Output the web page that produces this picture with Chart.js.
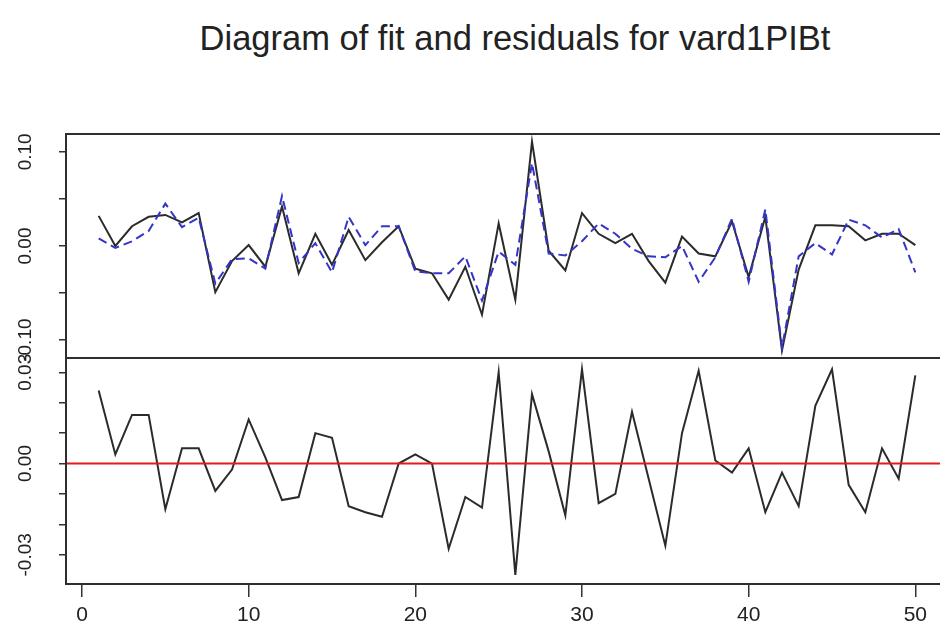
<!DOCTYPE html>
<html>
<head>
<meta charset="utf-8">
<title>Diagram of fit and residuals for vard1PIBt</title>
<script src="https://cdn.jsdelivr.net/npm/chart.js@4.4.1/dist/chart.umd.min.js"></script>
<style>
  html, body { margin: 0; padding: 0; background: #fff; overflow: hidden; width: 940px; height: 636px; }
  #title { position: absolute; left: 0; top: 21px; width: 1030px; text-align: center; white-space: nowrap;
           font: 34.5px/34.5px "Liberation Sans", Arial, sans-serif; color: #222; }
  canvas { position: absolute; left: 0; }
  #fitChart { top: 104px; }
  #residChart { top: 328px; }
</style>
</head>
<body>
<div id="title">Diagram of fit and residuals for vard1PIBt</div>
<canvas id="fitChart" width="950" height="284"></canvas>
<canvas id="residChart" width="950" height="306"></canvas>
<script>
// observation index (x axis)
const obs = [1, 2, 3, 4, 5, 6, 7, 8, 9, 10, 11, 12, 13, 14, 15, 16, 17, 18, 19, 20,
             21, 22, 23, 24, 25, 26, 27, 28, 29, 30, 31, 32, 33, 34, 35, 36, 37, 38, 39, 40,
             41, 42, 43, 44, 45, 46, 47, 48, 49, 50];

// actual series (black solid line, top panel)
const actual = [0.032, 0.000, 0.021, 0.031, 0.033, 0.025, 0.035, -0.049, -0.016, 0.001,
                -0.022, 0.042, -0.029, 0.013, -0.020, 0.017, -0.015, 0.004, 0.021, -0.024,
                -0.029, -0.057, -0.022, -0.073, 0.024, -0.057, 0.111, -0.005, -0.026, 0.035,
                0.013, 0.003, 0.013, -0.016, -0.039, 0.010, -0.008, -0.011, 0.026, -0.033,
                0.031, -0.111, -0.025, 0.022, 0.022, 0.021, 0.006, 0.013, 0.013, 0.001];

// fitted series (blue dashed line, top panel)
const fitted = [0.008, -0.002, 0.005, 0.016, 0.045, 0.020, 0.030, -0.040, -0.014, -0.013,
                -0.024, 0.053, -0.018, 0.003, -0.028, 0.031, 0.001, 0.021, 0.021, -0.027,
                -0.029, -0.029, -0.011, -0.058, -0.006, -0.020, 0.088, -0.008, -0.010, 0.005,
                0.024, 0.013, -0.003, -0.011, -0.012, 0.000, -0.038, -0.012, 0.029, -0.038,
                0.039, -0.108, -0.011, 0.003, -0.009, 0.028, 0.022, 0.009, 0.018, -0.028];

// residuals (bottom panel)
const residuals = [0.024, 0.003, 0.016, 0.016, -0.015, 0.005, 0.005, -0.009, -0.002, 0.0145,
                   0.002, -0.012, -0.011, 0.010, 0.0085, -0.014, -0.016, -0.0175, 0.000, 0.003,
                   0.000, -0.028, -0.011, -0.0145, 0.030, -0.0366, 0.0228, 0.004, -0.017, 0.031,
                   -0.013, -0.010, 0.017, -0.005, -0.027, 0.010, 0.0305, 0.001, -0.003, 0.005,
                   -0.016, -0.003, -0.014, 0.019, 0.031, -0.007, -0.016, 0.005, -0.005, 0.029];

// axis ranges and tick labels
const xMin = -0.96, xMax = 51.96, xStep = 10;
const fitMin = -0.119, fitMax = 0.119, fitStep = 0.05;
const resMin = -0.0396, resMax = 0.0347, resStep = 0.01;
const fitTickLabels = [-0.10, 0.00, 0.10];
const resTickLabels = [-0.03, 0.00, 0.03];
const residualZero = 0;

Chart.defaults.font.family = '"Liberation Sans", Arial, sans-serif';
Chart.defaults.color = '#222';

function toPoints(values) {
  return values.map((v, i) => ({ x: obs[i], y: v }));
}

// frame around the plotting region
const boxPlugin = {
  id: 'box',
  afterDraw(chart) {
    const { ctx, chartArea: a } = chart;
    ctx.save();
    ctx.strokeStyle = '#2e2e2e';
    ctx.lineWidth = 2;
    ctx.strokeRect(a.left, a.top, a.right - a.left, a.bottom - a.top);
    ctx.restore();
  }
};

// red horizontal line at zero in the residual panel
const zeroLinePlugin = {
  id: 'zeroLine',
  afterDatasetsDraw(chart) {
    const { ctx, chartArea: a, scales } = chart;
    const y = scales.y.getPixelForValue(residualZero);
    ctx.save();
    ctx.strokeStyle = '#e3191c';
    ctx.lineWidth = 2;
    ctx.beginPath();
    ctx.moveTo(a.left, y);
    ctx.lineTo(a.right, y);
    ctx.stroke();
    ctx.restore();
  }
};

function yScale(min, max, step, labels) {
  return {
    type: 'linear',
    min: min,
    max: max,
    afterFit(scale) { scale.width = 66; },
    border: { display: false },
    grid: { drawOnChartArea: false, drawTicks: true, tickLength: 7, color: '#333', lineWidth: 1.5 },
    ticks: {
      stepSize: step,
      includeBounds: false,
      autoSkip: false,
      minRotation: 90,
      maxRotation: 90,
      crossAlign: 'center',
      padding: 12,
      font: { size: 19 },
      callback(value) {
        const hit = labels.find(t => Math.abs(t - value) < 1e-9);
        return hit === undefined ? '' : hit.toFixed(2);
      }
    }
  };
}

const baseOptions = {
  responsive: false,
  animation: false,
  devicePixelRatio: 1,
  plugins: { legend: { display: false }, tooltip: { enabled: false } },
  elements: { point: { radius: 0 }, line: { tension: 0 } }
};

// top panel: actual vs fitted
new Chart(document.getElementById('fitChart'), {
  type: 'line',
  data: {
    datasets: [
      { label: 'fitted', data: toPoints(fitted), borderColor: '#3434c8', borderWidth: 2,
        borderDash: [9, 5], fill: false, order: 0 },
      { label: 'actual', data: toPoints(actual), borderColor: '#2b2b2b', borderWidth: 2,
        fill: false, order: 1 }
    ]
  },
  options: {
    ...baseOptions,
    layout: { padding: { top: 30, bottom: 30, left: 0, right: 2 } },
    scales: {
      x: { type: 'linear', min: xMin, max: xMax, display: false },
      y: yScale(fitMin, fitMax, fitStep, fitTickLabels)
    }
  },
  plugins: [boxPlugin]
});

// bottom panel: residuals
new Chart(document.getElementById('residChart'), {
  type: 'line',
  data: {
    datasets: [
      { label: 'residuals', data: toPoints(residuals), borderColor: '#2b2b2b', borderWidth: 2, fill: false }
    ]
  },
  options: {
    ...baseOptions,
    layout: { padding: { top: 30, bottom: 0, left: 0, right: 2 } },
    scales: {
      x: {
        type: 'linear',
        min: xMin,
        max: xMax,
        afterFit(scale) { scale.height = 50; },
        border: { display: false },
        grid: { drawOnChartArea: false, drawTicks: true, tickLength: 13, color: '#333', lineWidth: 1.5 },
        ticks: { stepSize: xStep, includeBounds: false, autoSkip: false, maxRotation: 0, padding: 6, font: { size: 21 } }
      },
      y: yScale(resMin, resMax, resStep, resTickLabels)
    }
  },
  plugins: [zeroLinePlugin, boxPlugin]
});
</script>
</body>
</html>
